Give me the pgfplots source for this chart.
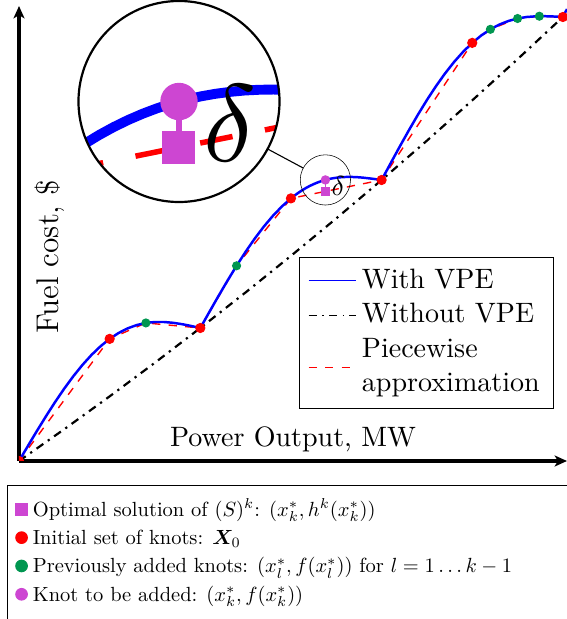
\documentclass[border=0pt]{standalone}
\usepackage{pgfplots}
\pgfplotsset{compat=1.18}
\usepackage{bm}
\usetikzlibrary{spy,arrows.meta}
\definecolor{mag}{RGB}{205,70,210}
\definecolor{grn}{RGB}{0,150,80}
\newcommand{\mf}{\fontsize{10.2pt}{12.2pt}\selectfont}
\newcommand{\legsc}[1]{\rule{0pt}{6.5pt}\scalebox{0.745}{#1}}
\pgfplotsset{common/.style={
  at={(6.909pt,57.455pt)}, anchor=south west,
  scale only axis, width=199.27pt, height=165.45pt,
  xmin=0, xmax=3.0226, ymin=0, ymax=455,
  xtick=\empty, ytick=\empty,
}}
\begin{document}
\begin{tikzpicture}
\begin{scope}[spy using outlines={circle, magnification=4, size=73.1pt, connect spies, line width=0.6pt}]
\begin{axis}[common,
  axis lines=left,
  axis line style={line width=1.1pt,-{Stealth[length=4.5pt,width=4pt,inset=1.2pt]}},
  xlabel={Power Output, MW}, ylabel={Fuel cost, \$},
  xlabel style={at={(axis description cs:0.5,0.047)}, anchor=center, font=\mf},
  ylabel style={at={(axis description cs:0.0566,0.4485)}, anchor=center, font=\fontsize{11.4pt}{13.7pt}\selectfont},
  legend style={at={(0.9763,0.4477)}, anchor=north east, draw=black, fill=white, font=\mf},
  legend cell align=left,
]
\addlegendimage{color=blue, line width=0.45pt}
\addlegendentry{With VPE}
\addlegendimage{color=black, dashdotted, line width=0.45pt}
\addlegendentry{Without VPE}
\addlegendimage{color=red, dashed, line width=0.6pt}
\addlegendentry{\raisebox{12.9pt}[20pt]{\begin{tabular}[t]{@{}l@{}}Piecewise\\approximation\end{tabular}}}
\addplot[red, line width=0.5pt, dashed, forget plot] coordinates {(0,0) (0.5,122.13) (0.7,138.05) (1,133) (1.2,195.20) (1.5,262.63) (2,281) (2.5,418.13) (2.6,431.69) (2.75,442.50) (2.87,444.79) (3,444)};
\addplot[black, line width=0.8pt, dashdotted, forget plot] coordinates {(0,0) (0.25,31.84) (0.5,64.63) (0.75,98.34) (1,133) (1.25,168.59) (1.5,205.13) (1.75,242.59) (2,281) (2.25,320.34) (2.5,360.63) (2.75,401.84) (3,444)};
\addplot[blue, line width=0.9pt, forget plot] coordinates {(0,0) (0.05,15.29) (0.1,30.40) (0.15,45.10) (0.2,59.20) (0.25,72.50) (0.3,84.85) (0.35,96.08) (0.4,106.09) (0.45,114.79) (0.5,122.13) (0.55,128.08) (0.6,132.69) (0.65,135.98) (0.7,138.05) (0.75,139.00) (0.8,139.00) (0.85,138.20) (0.9,136.80) (0.95,134.99) (1,133.00) (1.05,149.04) (1.1,164.90) (1.15,180.35) (1.2,195.20) (1.25,209.25) (1.3,222.35) (1.35,234.33) (1.4,245.09) (1.45,254.53) (1.5,262.63) (1.52,265.48) (1.54,268.10) (1.56,270.51) (1.58,272.71) (1.6,274.69) (1.62,276.46) (1.64,278.02) (1.66,279.39) (1.68,280.56) (1.69,281.07) (1.7,281.54) (1.72,282.35) (1.74,282.99) (1.76,283.47) (1.78,283.81) (1.8,284.00) (1.82,284.06) (1.84,284.01) (1.86,283.86) (1.88,283.62) (1.9,283.29) (1.95,282.24) (2,281.00) (2.05,297.79) (2.1,314.40) (2.15,330.59) (2.2,346.20) (2.25,361.00) (2.3,374.85) (2.35,387.57) (2.4,399.09) (2.45,409.28) (2.5,418.13) (2.55,425.58) (2.6,431.69) (2.65,436.47) (2.7,440.05) (2.75,442.50) (2.8,444.00) (2.85,444.69) (2.9,444.80) (2.95,444.49) (3,444.00) (3.0226,451.94)};
\coordinate (spyon) at (axis cs:1.69,281.07);
\end{axis}
\begin{axis}[common, hide axis, clip marker paths=true,
  legend style={at={(-0.0219,-0.0527)}, anchor=north west, draw=black, fill=white, inner xsep=3pt, inner ysep=3.5pt, nodes={inner ysep=1.15pt}},
  legend cell align=left,
  legend image code/.code={\draw[#1] plot coordinates {(0pt,0pt)};},
]
\addlegendimage{only marks, mark=square*, mark size=2.1pt, color=mag}
\addlegendentry{\makebox[215pt][l]{\legsc{Optimal solution of $(S)^k$: $(x_k^*, h^k(x_k^*))$}}}
\addlegendimage{only marks, mark=*, mark size=2.1pt, color=red}
\addlegendentry{\legsc{Initial set of knots: $\bm{X}_0$}}
\addlegendimage{only marks, mark=*, mark size=2.1pt, color=grn}
\addlegendentry{\legsc{Previously added knots: $(x_l^*, f(x_l^*))$ for $l=1\dots k-1$}}
\addlegendimage{only marks, mark=*, mark size=2.1pt, color=mag}
\addlegendentry{\legsc{Knot to be added: $(x_k^*, f(x_k^*))$}}
\addlegendimage{empty legend}
\addlegendentry{\rule{0pt}{10pt}}
\addplot[mag, line width=0.5pt, forget plot] coordinates {(1.69,281.07) (1.69,269.61)};
\addplot[only marks, mark=square*, mark size=1.3pt, color=mag, forget plot] coordinates {(1.69,269.61)};
\addplot[only marks, mark=*, mark size=1.65pt, color=red, forget plot] coordinates {(0,0) (0.5,122.13) (1,133) (1.5,262.63) (2,281) (2.5,418.13) (3,444)};
\addplot[only marks, mark=*, mark size=1.45pt, color=grn, forget plot] coordinates {(0.7,138.05) (1.2,195.20) (2.6,431.69) (2.75,442.50) (2.87,444.79)};
\addplot[only marks, mark=*, mark size=1.5pt, color=mag, forget plot] coordinates {(1.69,281.07)};
\node[font=\mf] at (axis cs:1.761,275.5) {$\delta$};
\end{axis}
\spy on (spyon) in node at (65.09pt,188.18pt);
\end{scope}
\pgfresetboundingbox
\path[use as bounding box] (0,0) rectangle (206.18pt,225.09pt);
\end{tikzpicture}
\end{document}
